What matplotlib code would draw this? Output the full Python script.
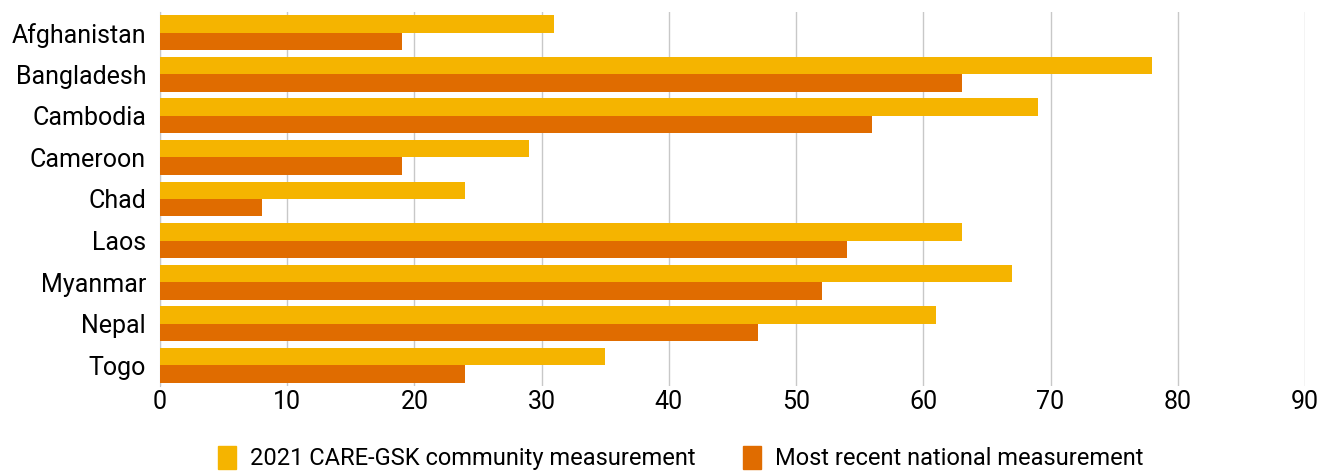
import matplotlib.pyplot as plt
import numpy as np
from matplotlib.patches import Patch

plt.rcParams['font.family'] = ['Roboto', 'DejaVu Sans']

countries = ['Afghanistan', 'Bangladesh', 'Cambodia', 'Cameroon', 'Chad',
             'Laos', 'Myanmar', 'Nepal', 'Togo']
community = [31, 78, 69, 29, 24, 63, 67, 61, 35]
national = [19, 63, 56, 19, 8, 54, 52, 47, 24]

yellow = '#F5B400'
orange = '#E06C00'

fig = plt.figure(figsize=(13.2, 4.71), dpi=100)
ax = fig.add_axes([160 / 1320, 1 - 386 / 471, 1145 / 1320, 374 / 471])

y = np.arange(len(countries))
h = 0.42
ax.barh(y - h / 2, community, height=h, color=yellow, zorder=3)
ax.barh(y + h / 2, national, height=h, color=orange, zorder=3)

ax.set_ylim(len(countries) - 0.5, -0.5)
ax.set_xlim(0, 90)
ax.set_xticks(range(0, 91, 10))
ax.set_yticks(y)
ax.set_yticklabels(countries)
ax.tick_params(axis='both', length=0, labelsize=18)
ax.tick_params(axis='x', pad=3)
ax.tick_params(axis='y', pad=10)
ax.grid(axis='x', color='#c8c8c8', linewidth=1, zorder=0)
for s in ['top', 'right', 'bottom']:
    ax.spines[s].set_visible(False)
ax.spines['left'].set_color('#c8c8c8')

handles = [Patch(color=yellow, label='2021 CARE-GSK community measurement'),
           Patch(color=orange, label='Most recent national measurement')]
fig.legend(handles=handles, loc='center', bbox_to_anchor=(681 / 1320, 1 - 458 / 471),
           ncol=2, frameon=False, fontsize=17, handlelength=0.75, handleheight=1.15,
           handletextpad=0.6, columnspacing=2.0)

plt.savefig('out.png', dpi=100)
plt.close()
